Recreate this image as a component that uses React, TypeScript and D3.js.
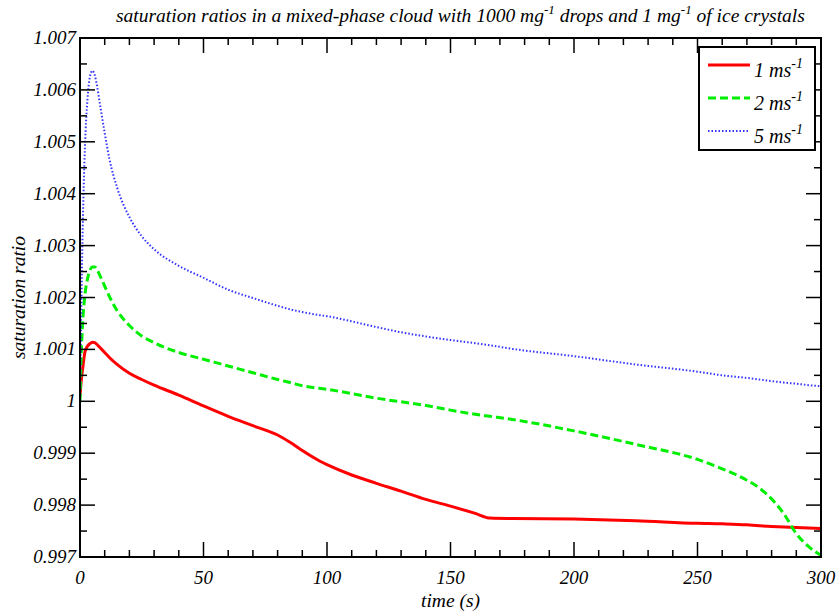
import { scaleLinear, line, curveMonotoneX, range, format } from 'd3'

const width = 837,
      height = 614,
      margin = { top: 38, right: 16, bottom: 57, left: 80 },
      innerWidth = width - margin.left - margin.right,
      innerHeight = height - margin.top - margin.bottom,
      font = '"Liberation Serif", "Times New Roman", serif'

// time (s)
const times = [0, 0.5, 1, 2, 3, 4, 5, 6, 7, 8, 10, 12, 15, 20, 25, 30, 40, 50, 60, 70, 80, 86, 90, 97, 100,
  110, 120, 130, 140, 150, 160, 166, 175, 200, 225, 250, 260, 270, 275, 280, 285, 290, 295, 300]

// saturation ratio, 1 m/s updraft
const sat1 = [1.0001, 1.0004, 1.0006, 1.00095, 1.00106, 1.00111, 1.00114, 1.00113, 1.00109, 1.00104,
  1.00094, 1.00084, 1.00071, 1.00054, 1.00042, 1.00031, 1.00012, 0.99991, 0.99971, 0.99953, 0.99935,
  0.99918, 0.99905, 0.99885, 0.99878, 0.99858, 0.99842, 0.99827, 0.99811, 0.99798, 0.99784, 0.99775,
  0.99774, 0.99773, 0.9977, 0.99765, 0.99764, 0.99762, 0.9976, 0.99759, 0.99758, 0.99757, 0.99756, 0.99755]

// 2 m/s
const sat2 = [1.0, 1.0009, 1.00145, 1.00205, 1.00235, 1.00252, 1.00259, 1.00259, 1.00253, 1.00243,
  1.00222, 1.00201, 1.00175, 1.00146, 1.00126, 1.00113, 1.00094, 1.00081, 1.00068, 1.00055, 1.00042,
  1.00035, 1.0003, 1.00025, 1.00023, 1.00015, 1.00006, 0.99999, 0.99992, 0.99983, 0.99975, 0.99971,
  0.99965, 0.99943, 0.99917, 0.99888, 0.9987, 0.99848, 0.99833, 0.99812, 0.99783, 0.99745, 0.9972, 0.99703]

// 5 m/s
const sat5 = [1.0, 1.0017, 1.0031, 1.0049, 1.0058, 1.00625, 1.00637, 1.00628, 1.00605, 1.00575,
  1.00517, 1.00465, 1.00412, 1.00355, 1.00318, 1.00293, 1.00261, 1.00238, 1.00215, 1.00199, 1.00184,
  1.00176, 1.00172, 1.00166, 1.00164, 1.00154, 1.00143, 1.00133, 1.00125, 1.00118, 1.00112, 1.00108,
  1.00101, 1.00087, 1.00071, 1.00057, 1.0005, 1.00045, 1.00042, 1.00039, 1.00036, 1.00034, 1.00031, 1.00029]

const xTicks = [0, 50, 100, 150, 200, 250, 300]
const yTicks = [0.997, 0.998, 0.999, 1, 1.001, 1.002, 1.003, 1.004, 1.005, 1.006, 1.007]
const seriesNames = ['1', '2', '5']

const series = [
  { name: seriesNames[0], values: sat1, color: '#ff0000', width: 3, dash: null },
  { name: seriesNames[1], values: sat2, color: '#00ee00', width: 3, dash: '8,4' },
  { name: seriesNames[2], values: sat5, color: '#3333ff', width: 2, dash: '1.5,2' }
]

const x = scaleLinear().domain([0, 300]).range([0, innerWidth])
const y = scaleLinear().domain([0.997, 1.007]).range([innerHeight, 0])
const fmt = format('.3~f')
const it = { fontStyle: 'italic' }

export default function App() {
  const minorX = range(0, 301, 10)
  const minorY = range(0, 21).map(i => 0.997 + i * 0.0005)

  return (
    <svg width={width} height={height} style={{ position: 'absolute', left: 0, top: 0, background: '#fff' }}
      fontFamily={font}>
      <text x={116} y={22} fontSize={19.5} style={it}>
        saturation ratios in a mixed-phase cloud with 1000 mg
        <tspan dy={-8} fontSize={13}>-1</tspan>
        <tspan dy={8}> drops and 1 mg</tspan>
        <tspan dy={-8} fontSize={13}>-1</tspan>
        <tspan dy={8}> of ice crystals</tspan>
      </text>

      <g transform={`translate(${margin.left},${margin.top})`}>
        <defs>
          <clipPath id='plot-clip'>
            <rect x={0} y={0} width={innerWidth} height={innerHeight} />
          </clipPath>
        </defs>

        {series.map(s => (
          <path key={s.name}
            d={line<number>().x((d, i) => x(times[i])).y(d => y(d)).curve(curveMonotoneX)(s.values) || ''}
            fill='none' stroke={s.color} strokeWidth={s.width}
            strokeDasharray={s.dash || undefined} clipPath='url(#plot-clip)' />
        ))}

        {/* ticks on all four sides, pointing inward */}
        <g stroke='black' strokeWidth={1.5}>
          {minorX.map(t => (
            <g key={'mx' + t}>
              <line x1={x(t)} x2={x(t)} y1={innerHeight} y2={innerHeight - (t % 50 === 0 ? 15 : 7)} />
              <line x1={x(t)} x2={x(t)} y1={0} y2={t % 50 === 0 ? 15 : 7} />
            </g>
          ))}
          {minorY.map((v, i) => (
            <g key={'my' + i}>
              <line x1={0} x2={i % 2 === 0 ? 15 : 7} y1={y(v)} y2={y(v)} />
              <line x1={innerWidth} x2={innerWidth - (i % 2 === 0 ? 15 : 7)} y1={y(v)} y2={y(v)} />
            </g>
          ))}
        </g>

        <rect x={0} y={0} width={innerWidth} height={innerHeight} fill='none' stroke='black' strokeWidth={2} />

        {xTicks.map(t => (
          <text key={t} x={x(t)} y={innerHeight + 27} fontSize={19} textAnchor='middle' style={it}>{t}</text>
        ))}
        {yTicks.map(v => (
          <text key={v} x={-4} y={y(v) + 6} fontSize={19} textAnchor='end' style={it}>{fmt(v)}</text>
        ))}

        <text x={innerWidth / 2} y={innerHeight + 50} fontSize={19.5} textAnchor='middle' style={it}>time (s)</text>
        <text transform={`translate(${-55},${innerHeight / 2}) rotate(-90)`} fontSize={19.5}
          textAnchor='middle' style={it}>
          saturation ratio
        </text>

        {/* legend */}
        <g transform={`translate(${innerWidth - 122},9)`}>
          <rect x={0} y={0} width={116} height={103} fill='#fff' stroke='black' strokeWidth={2} />
          {series.map((s, i) => (
            <g key={s.name} transform={`translate(0,${18 + i * 33})`}>
              <line x1={9} x2={51} y1={0} y2={0} stroke={s.color} strokeWidth={s.width}
                strokeDasharray={s.dash || undefined} />
              <text x={55} y={12} fontSize={20} style={it}>
                {`${s.name} ms`}
                <tspan dy={-9} fontSize={14}>-1</tspan>
              </text>
            </g>
          ))}
        </g>
      </g>
    </svg>
  )
}
